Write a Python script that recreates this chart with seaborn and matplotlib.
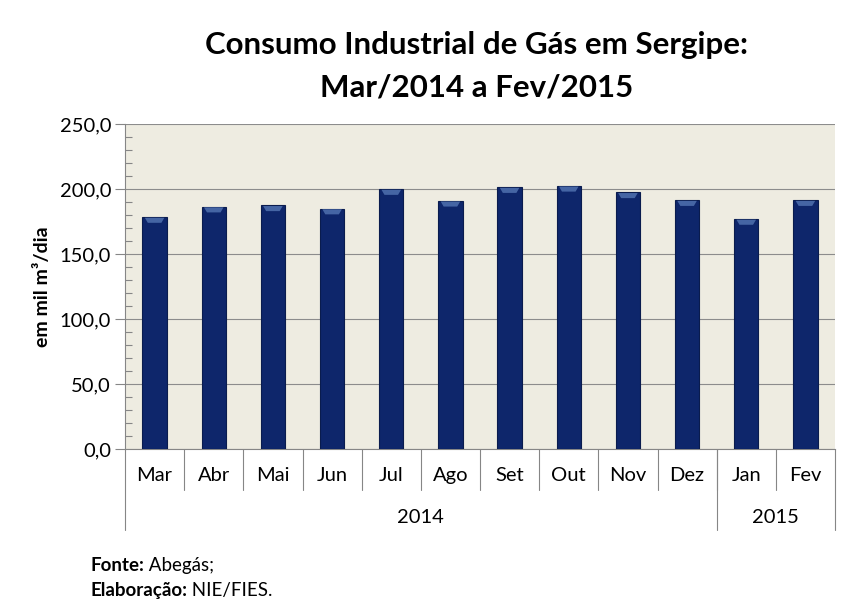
import matplotlib
matplotlib.use("Agg")
import matplotlib.pyplot as plt
import matplotlib.transforms as mtransforms
from matplotlib.patches import Polygon
from matplotlib.ticker import MultipleLocator, FuncFormatter
import seaborn as sns
import pandas as pd

# dados (mil m3/dia)
months = ["Mar", "Abr", "Mai", "Jun", "Jul", "Ago", "Set", "Out", "Nov", "Dez", "Jan", "Fev"]
values = [178.5, 186.5, 187.5, 185.0, 200.0, 191.0, 201.5, 202.5, 197.5, 191.5, 177.0, 191.5]
years = ["2014", "2015"]
months_per_year = [10, 2]

df = pd.DataFrame({"mes": months, "consumo": values})

sns.set_theme(style="white")
plt.rcParams['font.family'] = ['Lato', 'DejaVu Sans']
plt.rcParams['text.color'] = 'black'
plt.rcParams['axes.labelcolor'] = 'black'
plt.rcParams['ytick.labelcolor'] = 'black'

fig = plt.figure(figsize=(8.58, 6.13), dpi=100)
ax = fig.add_axes([0.1457, 0.2675, 0.8275, 0.5302])
ax.set_facecolor("#EEECE1")

sns.barplot(data=df, x="mes", y="consumo", order=months, color="#0E266B",
            width=0.41, edgecolor="#0A1C4E", linewidth=0.8, saturation=1, ax=ax,
            zorder=3)

# brilho no topo das barras
for p in ax.patches:
    x0, w, h = p.get_x(), p.get_width(), p.get_height()
    cap = Polygon([[x0 + 0.04, h - 0.6], [x0 + w - 0.04, h - 0.6],
                   [x0 + w * 0.78, h - 4.5], [x0 + w * 0.22, h - 4.5]],
                  closed=True, facecolor="#4565A4", edgecolor="none", zorder=4)
    ax.add_patch(cap)

ax.set_ylim(0, 250)
ax.set_xlim(-0.5, len(months) - 0.5)
ax.yaxis.set_major_locator(MultipleLocator(50))
ax.yaxis.set_minor_locator(MultipleLocator(10))
ax.yaxis.set_major_formatter(FuncFormatter(lambda v, p: f"{v:.1f}".replace(".", ",")))
ax.grid(axis="y", which="major", color="#8C8C8C", linewidth=0.8, zorder=0)
ax.tick_params(axis="y", which="major", direction="out", length=7, width=0.8,
               color="#868686", labelsize=14.5, pad=3, left=True)
ax.tick_params(axis="y", which="minor", direction="in", length=5, width=0.8,
               color="#868686", left=True)
ax.tick_params(axis="x", bottom=False, labelbottom=False)
for s in ["top", "right"]:
    ax.spines[s].set_visible(False)
for s in ["left", "bottom"]:
    ax.spines[s].set_color("#868686")
    ax.spines[s].set_linewidth(0.8)
ax.set_xlabel("")
ax.set_ylabel("em mil m³/dia", fontsize=14, fontweight="bold", labelpad=6)

# eixo x hierarquico (mes / ano)
trans = mtransforms.blended_transform_factory(ax.transData, ax.transAxes)
for i, m in enumerate(months):
    ax.text(i, -0.083, m, transform=trans, ha="center", va="center", fontsize=14.5)
for i in range(1, len(months)):
    ax.plot([i - 0.5, i - 0.5], [0, -0.126], transform=trans, color="#868686",
            linewidth=0.8, clip_on=False)
start = 0
edges = [-0.5]
for y, n in zip(years, months_per_year):
    ax.text(start + (n - 1) / 2, -0.212, y, transform=trans, ha="center",
            va="center", fontsize=14.5)
    start += n
    edges.append(start - 0.5)
for e in edges:
    ax.plot([e, e], [0, -0.249], transform=trans, color="#868686",
            linewidth=0.8, clip_on=False)

fig.text(0.555, 0.892, "Consumo Industrial de Gás em Sergipe:\nMar/2014 a Fev/2015",
         ha="center", va="center", fontsize=22.5, fontweight="bold",
         linespacing=1.6)

# fonte
fig.canvas.draw()
r = fig.canvas.get_renderer()
for ypos, b, n in [(0.069, "Fonte:", " Abegás;"), (0.027, "Elaboração:", " NIE/FIES.")]:
    t1 = fig.text(0.105, ypos, b, fontsize=13.5, fontweight="bold", va="baseline")
    x1 = t1.get_window_extent(r).x1 / fig.bbox.width
    fig.text(x1, ypos, n, fontsize=13.5, va="baseline")

fig.savefig("out.png", dpi=100)
